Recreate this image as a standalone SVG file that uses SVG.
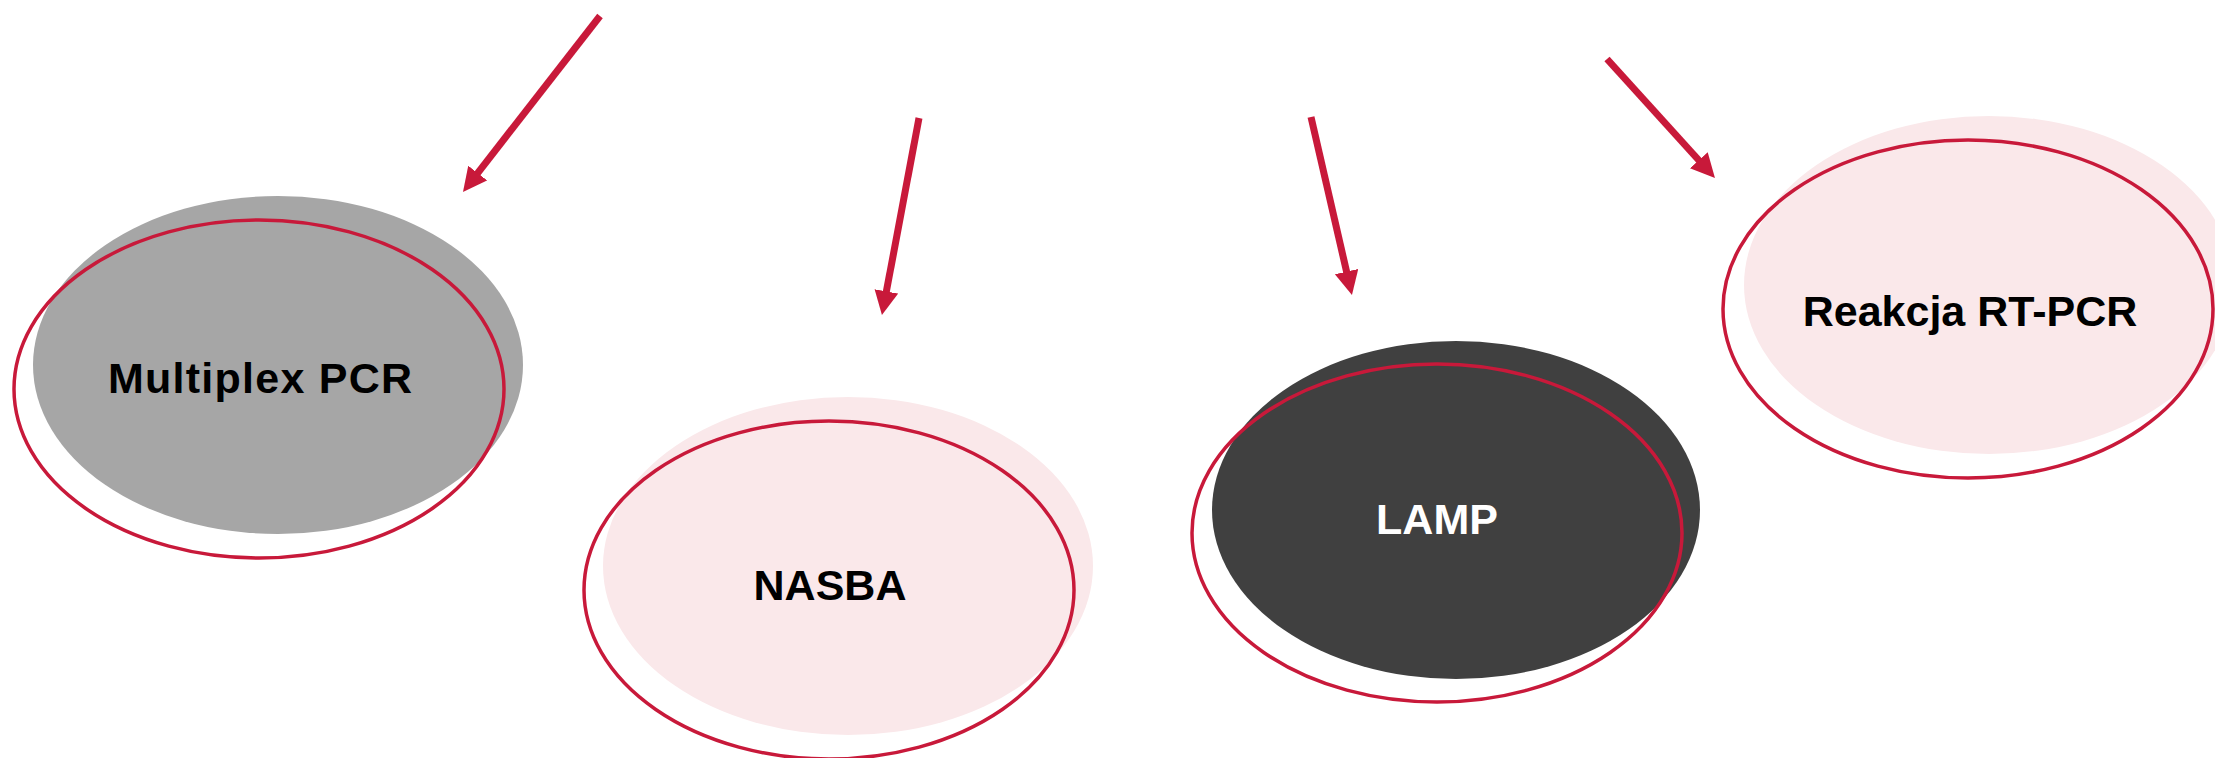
<svg xmlns="http://www.w3.org/2000/svg" width="2215" height="758" viewBox="0 0 2215 758">
<style>
.ring{fill:none;stroke:#C8193A;stroke-width:3.5}
.lbl{font-family:"Liberation Sans",Arial,sans-serif;font-weight:700;font-size:43px;text-anchor:middle;fill:#000}
.arrow{stroke:#C8193A;stroke-width:7;fill:none;marker-end:url(#head)}
</style>
<defs>
<marker id="head" markerUnits="userSpaceOnUse" markerWidth="26" markerHeight="26" refX="1" refY="12" orient="auto">
<path d="M0,0 L24,12 L0,24 z" fill="#C8193A"/>
</marker>
</defs>
<rect width="2215" height="758" fill="#fff"/>
<g id="node-multiplex">
<ellipse cx="278" cy="365" rx="245" ry="169" fill="#A6A6A6"/>
<ellipse class="ring" cx="259" cy="389" rx="245" ry="169"/>
<text class="lbl" x="260" y="393" textLength="304" lengthAdjust="spacing">Multiplex PCR</text>
</g>
<g id="node-nasba">
<ellipse cx="848" cy="566" rx="245" ry="169" fill="#FAE8EA"/>
<ellipse class="ring" cx="829" cy="590" rx="245" ry="169"/>
<text class="lbl" x="830" y="600">NASBA</text>
</g>
<g id="node-lamp">
<ellipse cx="1456" cy="510" rx="244" ry="169" fill="#404040"/>
<ellipse class="ring" cx="1437" cy="533" rx="245" ry="169"/>
<text class="lbl" x="1437" y="534" style="fill:#fff">LAMP</text>
</g>
<g id="node-rtpcr">
<ellipse cx="1989" cy="285" rx="245" ry="169" fill="#FAE8EA"/>
<ellipse class="ring" cx="1968" cy="309" rx="245" ry="169"/>
<text class="lbl" x="1970" y="326">Reakcja RT-PCR</text>
</g>
<g id="connectors">
<line class="arrow" x1="600" y1="16" x2="477.1" y2="173.8"/>
<line class="arrow" x1="919" y1="118" x2="886.2" y2="292.4"/>
<line class="arrow" x1="1311" y1="117" x2="1346.8" y2="272.6"/>
<line class="arrow" x1="1607" y1="59" x2="1699.5" y2="161"/>
</g>
</svg>
